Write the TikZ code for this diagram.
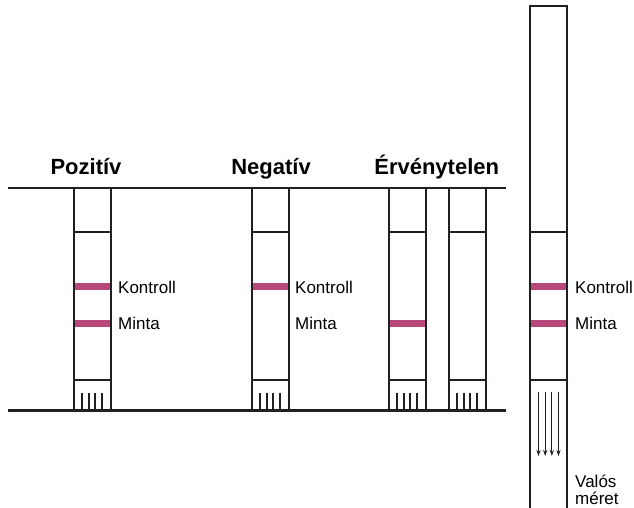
\documentclass[tikz,border=0pt]{standalone}
\usepackage{fontspec}
\setmainfont{Liberation Sans}
\usetikzlibrary{arrows.meta}
\definecolor{ink}{RGB}{35,31,32}
\definecolor{band}{RGB}{184,72,122}
\begin{document}
\begin{tikzpicture}[x=1pt,y=-1pt,line join=miter]
\tikzset{
  rail/.style={draw=ink,line width=2.6pt},
  side/.style={draw=ink,line width=2pt},
  sect/.style={draw=ink,line width=2pt},
  tick/.style={draw=ink,line width=1.8pt},
  bandfill/.style={fill=band},
  title/.style={font=\bfseries\fontsize{22}{26}\selectfont,anchor=base,inner sep=0pt},
  lbl/.style={font=\fontsize{17}{20}\selectfont,anchor=base west,inner sep=0pt},
  flow/.style={draw=ink,line width=1.1pt,-{Stealth[length=6pt,width=4.2pt]}}
}
\useasboundingbox (0,0) rectangle (634,508);

% bands (drawn first)
\foreach \L in {73.5,251.5,530} \fill[bandfill] (\L,283) rectangle (\L+37,290);
\foreach \L in {73.5,388.5,530} \fill[bandfill] (\L,319.5) rectangle (\L+37,326.5);

% rails
\draw[rail] (8,188) -- (506,188);
\draw[rail] (8,410.5) -- (506,410.5);

% test strips
\foreach \L in {73.5,251.5,388.5,448.5}{
  \draw[side] (\L,188) -- (\L,410);
  \draw[side] (\L+37,188) -- (\L+37,410);
  \draw[sect] (\L,231.5) -- (\L+37,231.5);
  \draw[sect] (\L,380) -- (\L+37,380);
  \foreach \d in {-10,-3.33,3.33,10}
    \draw[tick] (\L+18.5+\d,392.5) -- (\L+18.5+\d,410);
}

% real size strip
\draw[side] (530,508) -- (530,6) -- (567,6) -- (567,508);
\draw[sect] (530,231.5) -- (567,231.5);
\draw[sect] (530,380) -- (567,380);
\foreach \d in {-10,-3.33,3.33,10}
  \draw[flow] (548.5+\d,392) -- (548.5+\d,456);

% titles
\node[title] (tpoz) at (86,174.4) {Pozitív};
\node[title] (tneg) at (271,174.4) {Negatív};
\node[title] (terv) at (436.7,174.4) {Érvénytelen};

% labels
\node[lbl] (k1) at (118,293.3) {Kontroll};
\node[lbl] (m1) at (118,329.5) {Minta};
\node[lbl] (k2) at (295,293.3) {Kontroll};
\node[lbl] (m2) at (295,329.5) {Minta};
\node[lbl] (k3) at (575,293.3) {Kontroll};
\node[lbl] (m3) at (575,329.5) {Minta};
\node[lbl] (v1) at (575,487) {Valós};
\node[lbl] (v2) at (575,504) {méret};
\end{tikzpicture}
\end{document}
